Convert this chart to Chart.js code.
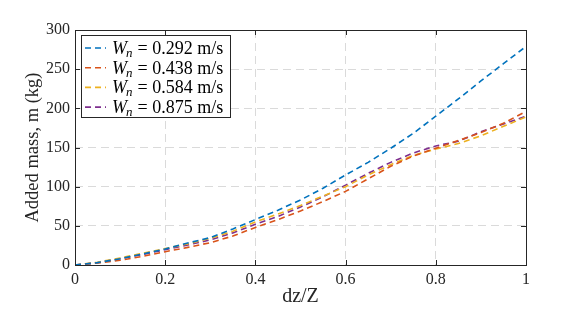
<!DOCTYPE html>
<html>
<head>
<meta charset="utf-8">
<script src="https://cdn.jsdelivr.net/npm/chart.js@4.4.1/dist/chart.umd.min.js"></script>
<style>
    body { margin: 0; background: #fff; }
    #wrap { width: 581px; height: 320px; }
</style>
</head>
<body>
<div id="wrap"><canvas id="massChart" width="581" height="320"></canvas></div>
<script>
// data
const dzZ = [0, 0.05, 0.1, 0.15, 0.2, 0.25, 0.3, 0.35, 0.4, 0.45, 0.5, 0.55, 0.6, 0.65, 0.7, 0.75, 0.8, 0.85, 0.9, 0.95, 1]
const mass292 = [0, 3, 8, 14, 20.5, 28, 35, 46, 58, 70, 83, 98, 115, 131, 149, 168, 190, 212, 235, 257, 279]
const mass438 = [0, 2.5, 6, 11, 17, 22.5, 28.5, 37, 48, 58, 69, 81, 94, 110, 126, 139, 149, 159, 169, 181, 196]
const mass584 = [0, 3.5, 9, 15, 21, 27, 34, 43, 55, 65, 76, 88, 100, 115, 128, 140, 148, 155, 165, 177, 189]
const mass875 = [0, 3, 8, 13.5, 19.5, 25.5, 32, 41, 52, 62, 74, 87, 102, 117, 131, 143, 152, 158, 170, 180, 190]
const speeds = ['0.292', '0.438', '0.584', '0.875']
const xTicks = [0, 0.2, 0.4, 0.6, 0.8, 1]
const yTicks = [0, 50, 100, 150, 200, 250, 300]

const colors = ['#0072BD', '#D95319', '#EDB120', '#7E2F8E']
const serif = "'Liberation Serif', 'DejaVu Serif', serif"
const axisColor = '#262626'

function toPoints(ys) {
    return ys.map((y, i) => ({ x: dzZ[i], y: y }))
}

const series = [mass292, mass438, mass584, mass875]
const datasets = series.map((s, i) => ({
    label: speeds[i],
    data: toPoints(s),
    borderColor: colors[i],
    borderWidth: 1.6,
    borderDash: [6, 4],
    pointRadius: 0,
    tension: 0,
    fill: false
}))

// box, inward ticks and the latex-ish legend
const matlabAxes = {
    id: 'matlabAxes',
    afterDatasetsDraw(chart) {
        const ctx = chart.ctx
        const a = chart.chartArea
        const xs = chart.scales.x, ys = chart.scales.y
        ctx.save()
        ctx.strokeStyle = axisColor
        ctx.lineWidth = 1
        ctx.beginPath()
        xTicks.forEach(t => {
            const px = Math.round(xs.getPixelForValue(t)) + 0.5
            ctx.moveTo(px, a.bottom); ctx.lineTo(px, a.bottom - 5)
            ctx.moveTo(px, a.top); ctx.lineTo(px, a.top + 5)
        })
        yTicks.forEach(t => {
            const py = Math.round(ys.getPixelForValue(t)) + 0.5
            ctx.moveTo(a.left, py); ctx.lineTo(a.left + 5, py)
            ctx.moveTo(a.right, py); ctx.lineTo(a.right - 5, py)
        })
        ctx.stroke()
        ctx.strokeRect(Math.round(a.left) + 0.5, Math.round(a.top) + 0.5, Math.round(a.right - a.left), Math.round(a.bottom - a.top))

        // legend
        const bx = 81.5, by = 35.5, bw = 149, bh = 82
        ctx.fillStyle = '#fff'
        ctx.fillRect(bx, by, bw, bh)
        ctx.strokeStyle = axisColor
        ctx.strokeRect(bx, by, bw, bh)
        ctx.textBaseline = 'alphabetic'
        speeds.forEach((sp, i) => {
            const rowY = 48 + i * 19.7
            ctx.strokeStyle = colors[i]
            ctx.lineWidth = 1.6
            ctx.setLineDash([6, 4])
            ctx.beginPath()
            ctx.moveTo(85, rowY); ctx.lineTo(106, rowY)
            ctx.stroke()
            ctx.setLineDash([])
            ctx.fillStyle = '#000'
            let x = 112
            const base = rowY + 6
            ctx.font = 'italic 18px ' + serif
            ctx.fillText('W', x, base)
            x += ctx.measureText('W').width - 1
            ctx.font = 'italic 13px ' + serif
            ctx.fillText('n', x, base + 3)
            x += ctx.measureText('n').width + 5
            ctx.font = '18px ' + serif
            ctx.fillText('= ' + sp + ' m/s', x, base)
        })
        ctx.restore()
    }
}

const whiteBg = {
    id: 'whiteBg',
    beforeDraw(chart) {
        const ctx = chart.ctx
        ctx.save()
        ctx.fillStyle = '#fff'
        ctx.fillRect(0, 0, chart.width, chart.height)
        ctx.restore()
    }
}

const massChart = new Chart(document.getElementById('massChart'), {
    type: 'line',
    data: { datasets: datasets },
    options: {
        responsive: false,
        animation: false,
        layout: { padding: { left: 0, top: 30, right: 55, bottom: 0 } },
        plugins: {
            legend: { display: false },
            tooltip: { enabled: false }
        },
        scales: {
            x: {
                type: 'linear',
                min: 0,
                max: 1,
                afterFit: s => { s.height = 55 },
                afterBuildTicks: s => { s.ticks = xTicks.map(v => ({ value: v })) },
                grid: {
                    color: '#dadada',
                    lineWidth: 1,
                    drawTicks: false
                },
                border: { display: false, dash: [8, 5] },
                ticks: {
                    color: axisColor,
                    font: { family: serif, size: 16 },
                    padding: 5,
                    maxRotation: 0,
                    callback: v => String(v)
                },
                title: {
                    display: true,
                    text: 'dz/Z',
                    color: axisColor,
                    font: { family: serif, size: 20 },
                    padding: { top: 0, bottom: 11 }
                }
            },
            y: {
                min: 0,
                max: 300,
                afterFit: s => { s.width = 75 },
                afterBuildTicks: s => { s.ticks = yTicks.map(v => ({ value: v })) },
                grid: {
                    color: '#dadada',
                    lineWidth: 1,
                    drawTicks: false
                },
                border: { display: false, dash: [8, 5] },
                ticks: {
                    color: axisColor,
                    font: { family: serif, size: 16 },
                    padding: 5
                },
                title: {
                    display: true,
                    text: 'Added mass, m (kg)',
                    color: axisColor,
                    font: { family: serif, size: 18.5 },
                    padding: { top: 22, bottom: 0 }
                }
            }
        }
    },
    plugins: [whiteBg, matlabAxes]
})
</script>
</body>
</html>
